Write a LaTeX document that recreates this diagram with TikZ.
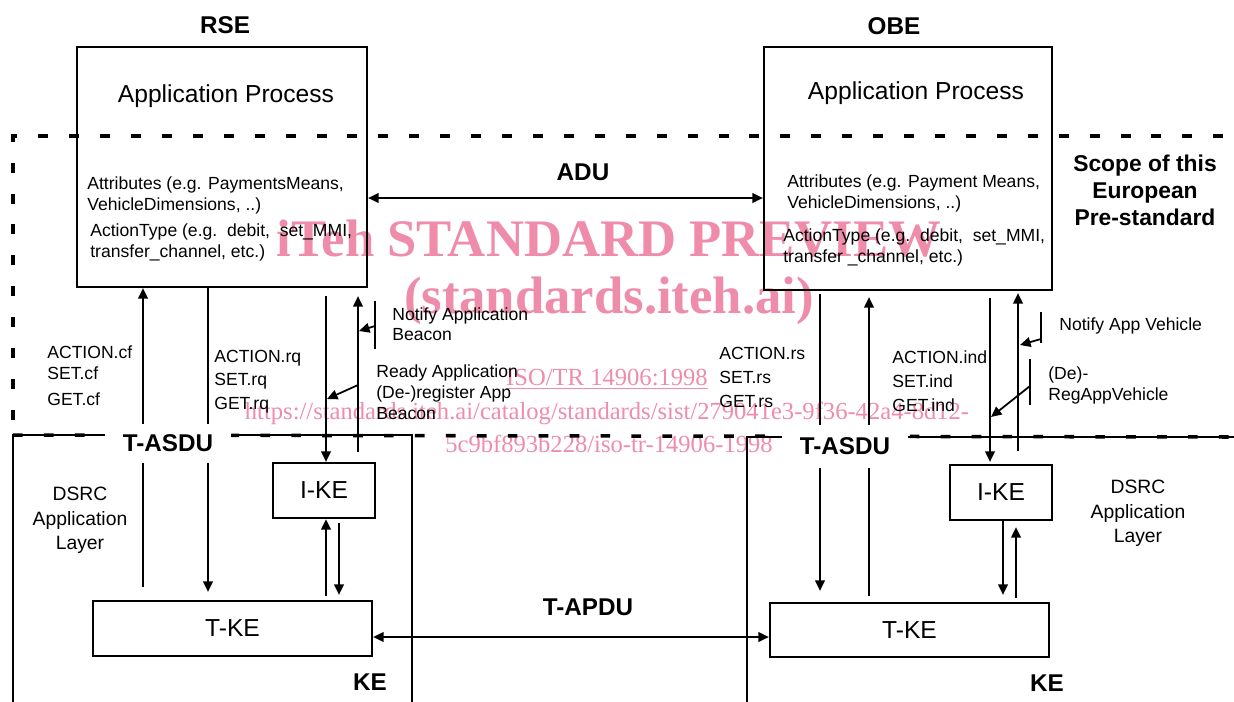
\documentclass[tikz,border=0pt]{standalone}
\usepackage{fontspec}
\setmainfont{Liberation Sans}
\newfontfamily\markserif{Liberation Serif}
\usetikzlibrary{arrows.meta}
\definecolor{MarkPink}{HTML}{EE8CAA}
\tikzset{
  dgsmall/.style={font=\fontsize{10}{12}\selectfont, inner sep=0pt, align=left},
  dgmid/.style={font=\fontsize{11}{14}\selectfont, inner sep=0pt, align=center},
  dgbig/.style={font=\fontsize{14}{17}\selectfont, inner sep=0pt},
  dgtitle/.style={font=\bfseries\fontsize{13.8}{16}\selectfont, inner sep=0pt},
  dgbox/.style={draw, line width=1.3pt, font=\fontsize{14}{17}\selectfont, inner sep=0pt},
  dgline/.style={line width=1pt},
  dgarrow/.style={dgline, -{Triangle[length=6pt,width=5.5pt]}},
  dgboth/.style={dgline, {Triangle[length=6pt,width=5.5pt]}-{Triangle[length=6pt,width=5.5pt]}},
  scopedash/.style={line width=2.8pt, dash pattern=on 5.7pt off 11.9pt},
  kedash/.style={line width=2pt, dash pattern=on 5.5pt off 12.1pt},
  cutlabel/.style={dgtitle, fill=white, minimum width=2.54cm, minimum height=0.78cm},
  markbig/.style={font=\markserif\bfseries\fontsize{30}{34}\selectfont, text=MarkPink, inner sep=0pt},
  markurl/.style={font=\markserif\fontsize{14}{16}\selectfont, text=MarkPink, inner sep=0pt}
}
\begin{document}
\begin{tikzpicture}[x=0.02cm, y=-0.02cm]
\useasboundingbox (0,0) rectangle (1234,701);
% watermark, behind everything
\node[markbig] (wmtitle) at (609,239) {iTeh STANDARD PREVIEW};
\node[markbig] (wmsite) at (609,301) {(standards.iteh.ai)};
\node[markurl] (wmcode) at (607,379) {\underline{ISO/TR 14906:1998}};
\node[markurl] (wmurl) at (607,413) {https://standards.iteh.ai/catalog/standards/sist/279041e3-9f36-42a4-8d12-};
\node[markurl] (wmurltail) at (609,444) {5c9bf893b228/iso-tr-14906-1998};
% scope of the pre-standard
\draw[scopedash] (13,420) -- (13,136) -- (1234,136);
\draw[dgline] (13,710) -- (13,435) -- (412,435) -- (412,710);
\draw[dgline] (747,710) -- (747,437) -- (1234,437);
\draw[kedash] (13,435) -- (1234,437);
% RSE side
\node[dgtitle] (rsetitle) at (225,25) {RSE};
\node[dgbox, minimum width=5.8cm, minimum height=4.8cm] (rseap) at (222,167) {};
\node[dgbig] (rseaptext) at (226,96) {Application Process};
\node[dgsmall, anchor=north west] (rseattr) at (87,176.5) {Attributes (e.g. PaymentsMeans,\\VehicleDimensions, ..)};
\node[dgsmall, anchor=north west] (rseact) at (90,223.5) {ActionType (e.g.\ \ debit,\ \ set\_MMI,\\transfer\_channel, etc.)};
\node[dgbox, minimum width=2.04cm, minimum height=1.1cm] (rseike) at (324,490.5) {I-KE};
\node[dgbox, minimum width=5.58cm, minimum height=1.1cm] (rsetke) at (232.5,628.5) {T-KE};
\coordinate (rsecf) at (143,0);
\coordinate (rserq) at (208,0);
\coordinate (rseik) at (326,0);
\coordinate (rseikb) at (339,0);
\coordinate (rseup) at (358,0);
\draw[dgarrow, shorten <=0.26cm] (rsetke.north -| rsecf) -- (rseap.south -| rsecf);
\draw[dgarrow, shorten >=0.16cm] (rseap.south -| rserq) -- (rsetke.north -| rserq);
\draw[dgarrow, shorten <=0.16cm] (rseap.south -| rseik) -- (rseike.north -| rseik);
\draw[dgarrow, shorten <=0.2cm, shorten >=0.16cm] (rseike.north -| rseup) -- (rseap.south -| rseup);
\draw[dgarrow, shorten <=0.08cm] (rsetke.north -| rseik) -- (rseike.south -| rseik);
\draw[dgarrow, shorten <=0.08cm, shorten >=0.1cm] (rseike.south -| rseikb) -- (rsetke.north -| rseikb);
\coordinate (rsenotify) at (375,326);
\coordinate (rseready) at (358,385);
\draw[dgline] (375,301) -- (375,349);
\draw[dgarrow] (rsenotify) -- (359,331);
\draw[dgarrow] (rseready) -- (327,399);
\node[dgsmall, anchor=north west] (rsecflist) at (47,345.4) {ACTION.cf\\SET.cf\\[2.8pt]GET.cf};
\node[dgsmall, anchor=north west, font=\fontsize{10}{13.1}\selectfont] (rserqlist) at (214,349.4) {ACTION.rq\\SET.rq\\[1pt]GET.rq};
\node[dgsmall, anchor=north west, font=\fontsize{10}{11.4}\selectfont] (rsenotifytext) at (392,307.4) {Notify Application\\Beacon};
\node[dgsmall, anchor=north west] (rsereadytext) at (376,364.4) {Ready Application\\(De-)register App\\Beacon};
\node[dgmid, anchor=north] (rsedsrc) at (80,486.7) {DSRC\\Application\\Layer};
\node[cutlabel] (rseasdu) at (168,443.5) {T-ASDU};
\node[dgtitle] (rseke) at (370,682) {KE};
% OBE side
\node[dgtitle] (obetitle) at (894,26) {OBE};
\node[dgbox, minimum width=5.76cm, minimum height=4.86cm] (obeap) at (908,168.5) {};
\node[dgbig] (obeaptext) at (916,93) {Application Process};
\node[dgsmall, anchor=north west] (obeattr) at (787,174.5) {Attributes (e.g. Payment Means,\\VehicleDimensions, ..)};
\node[dgsmall, anchor=north west] (obeact) at (783,228.5) {ActionType (e.g.\ \ debit,\ \ set\_MMI,\\transfer \_channel, etc.)};
\node[dgbox, minimum width=2.04cm, minimum height=1.1cm] (obeike) at (1001,492.5) {I-KE};
\node[dgbox, minimum width=5.58cm, minimum height=1.08cm] (obetke) at (909.5,630) {T-KE};
\coordinate (obers) at (820,0);
\coordinate (obeind) at (869,0);
\coordinate (obeik) at (990,0);
\coordinate (obeikb) at (1003,0);
\coordinate (obeikc) at (1016,0);
\coordinate (obeup) at (1018,0);
\draw[dgarrow, shorten <=0.06cm, shorten >=0.22cm] (obeap.south -| obers) -- (obetke.north -| obers);
\draw[dgarrow, shorten <=0.12cm, shorten >=0.12cm] (obetke.north -| obeind) -- (obeap.south -| obeind);
\draw[dgarrow, shorten <=0.14cm, shorten >=0.04cm] (obeap.south -| obeik) -- (obeike.north -| obeik);
\draw[dgarrow, shorten <=0.26cm, shorten >=0.04cm] (obeike.north -| obeup) -- (obeap.south -| obeup);
\draw[dgarrow, shorten >=0.14cm] (obeike.south -| obeikb) -- (obetke.north -| obeikb);
\draw[dgarrow, shorten <=0.08cm, shorten >=0.12cm] (obetke.north -| obeikc) -- (obeike.south -| obeikc);
\coordinate (obenotify) at (1041,339);
\coordinate (obedereg) at (1030,386);
\draw[dgline] (1041,312) -- (1041,343);
\draw[dgline] (1030,359) -- (1030,405);
\draw[dgarrow] (obenotify) -- (1020,345);
\draw[dgarrow] (obedereg) -- (991,417);
\node[dgsmall, anchor=north west, font=\fontsize{10}{13.9}\selectfont] (obershlist) at (719,346.4) {ACTION.rs\\SET.rs\\GET.rs};
\node[dgsmall, anchor=north west, font=\fontsize{10}{13.7}\selectfont] (obeindlist) at (892,350.4) {ACTION.ind\\SET.ind\\GET.ind};
\node[dgsmall, anchor=west] (obenotifytext) at (1059,326) {Notify App Vehicle};
\node[dgsmall, anchor=north west] (oberegtext) at (1048,366.4) {(De)-\\RegAppVehicle};
\node[dgmid, anchor=north] (obedsrc) at (1138,479.7) {DSRC\\Application\\Layer};
\node[cutlabel, minimum height=0.86cm] (obeasdu) at (845,446) {T-ASDU};
\node[dgtitle] (obeke) at (1047,683) {KE};
\node[dgtitle, align=center, anchor=north, font=\bfseries\fontsize{13}{15.4}\selectfont] (scopetext) at (1145,154.6) {Scope of this\\European\\Pre-standard};
% peer exchanges
\coordinate (adulevel) at (0,198);
\coordinate (apdulevel) at (0,637);
\draw[dgboth] (rseap.east |- adulevel) -- (obeap.west |- adulevel);
\draw[dgboth] (rsetke.east |- apdulevel) -- (obetke.west |- apdulevel);
\node[dgtitle] (adutext) at (583,172) {ADU};
\node[dgtitle] (apdutext) at (588,607.5) {T-APDU};
\end{tikzpicture}
\end{document}
